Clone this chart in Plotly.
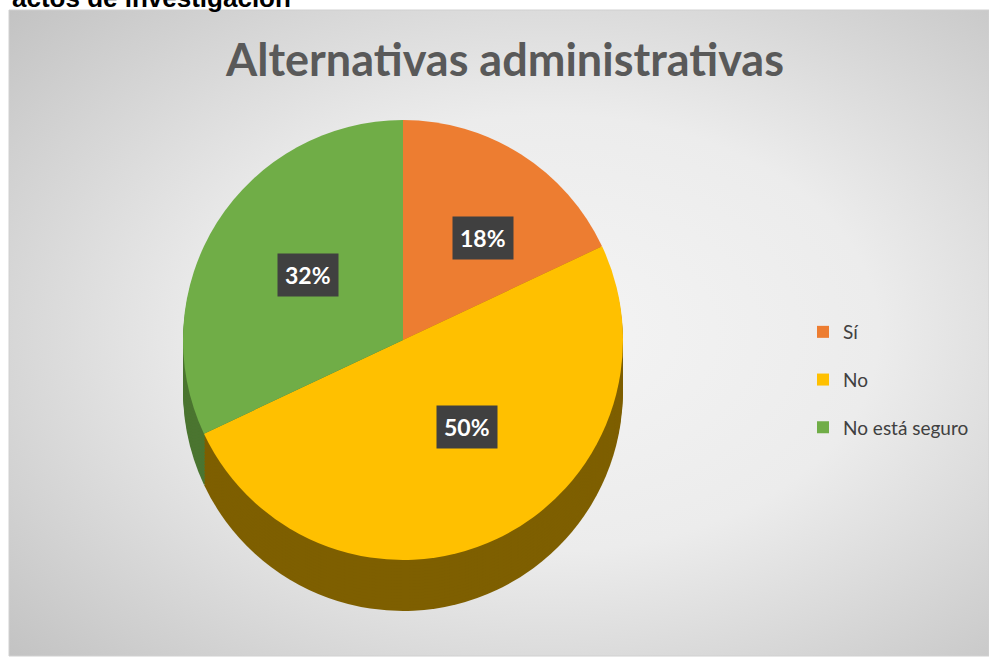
import base64, math
import plotly.graph_objects as go

labels = ["Sí", "No", "No está seguro"]
values = [18, 50, 32]
colors = ["#ED7D31", "#FFC000", "#70AD47"]
side_colors = ["#9E5420", "#7E5F00", "#4B7530"]
title_text = "Alternativas administrativas"
caption_text = "actos de investigación"

W, H = 989, 659
cx_px, cy_px, R_px = 403, 340, 220
depth_layers, layer_step = 17, 3

def dom(cy):
    return dict(x=[(cx_px - R_px) / W, (cx_px + R_px) / W],
                y=[1 - (cy + R_px) / H, 1 - (cy - R_px) / H])

fig = go.Figure()
for k in range(depth_layers, 0, -1):
    fig.add_trace(go.Pie(labels=labels, values=values, sort=False, direction="clockwise",
                         rotation=0, marker=dict(colors=side_colors), textinfo="none",
                         hoverinfo="skip", showlegend=False, domain=dom(cy_px + k * layer_step)))
fig.add_trace(go.Pie(labels=labels, values=values, sort=False, direction="clockwise",
                     rotation=0, marker=dict(colors=colors), textinfo="none",
                     hoverinfo="label+percent", showlegend=False, domain=dom(cy_px)))

# legend entries
for i, (lab, col) in enumerate(zip(labels, colors)):
    fig.add_trace(go.Scatter(x=[None], y=[None], mode="markers", name=lab,
                             marker=dict(symbol="square", size=13, color=col),
                             legendgroup="g%d" % i, showlegend=True))

svg = ('<svg xmlns="http://www.w3.org/2000/svg" width="980" height="646" viewBox="0 0 980 646" preserveAspectRatio="none">'
       '<defs><radialGradient id="g" cx="0.55" cy="0.5" r="0.75">'
       '<stop offset="0" stop-color="#f4f4f4"/><stop offset="0.45" stop-color="#ececec"/>'
       '<stop offset="1" stop-color="#c2c2c2"/></radialGradient></defs>'
       '<rect width="980" height="646" fill="url(#g)"/></svg>')
src = "data:image/svg+xml;base64," + base64.b64encode(svg.encode()).decode()

total = sum(values)
annotations = []
cum = 0
for lab, v in zip(labels, values):
    mid = (cum + v / 2) / total * 2 * math.pi
    cum += v
    xp = cx_px + 0.68 * R_px * math.sin(mid)
    yp = cy_px - 0.55 * R_px * math.cos(mid)
    annotations.append(dict(x=xp / W, y=1 - yp / H, xref="paper", yref="paper",
                            text="<b>%d%%</b>" % round(v / total * 100), showarrow=False,
                            font=dict(family="Lato, Open Sans, sans-serif", size=23, color="white"),
                            bgcolor="#404040", borderpad=7))
annotations.append(dict(x=10 / W, y=1 - 15 / H, xref="paper", yref="paper", xanchor="left",
                        yanchor="bottom", text="<b>" + caption_text + "</b>", showarrow=False,
                        font=dict(family="Liberation Sans, Arial, sans-serif", size=26, color="black")))

fig.update_layout(
    width=W, height=H, margin=dict(l=0, r=0, t=0, b=0),
    paper_bgcolor="white", plot_bgcolor="rgba(0,0,0,0)",
    xaxis=dict(visible=False), yaxis=dict(visible=False),
    images=[dict(source=src, xref="paper", yref="paper", x=9 / W, y=1 - 10 / H,
                 sizex=(W - 9) / W, sizey=(H - 13) / H, sizing="stretch", layer="below",
                 xanchor="left", yanchor="top")],
    shapes=[dict(type="rect", xref="paper", yref="paper", x0=9 / W, x1=1, y0=3 / H, y1=1 - 10 / H,
                 line=dict(color="#d0d0d0", width=1), layer="below")],
    title=dict(text="<b>" + title_text + "</b>", x=505 / W, xanchor="center", y=1 - 60 / H, yanchor="middle",
               font=dict(family="Lato, Open Sans, sans-serif", size=45, color="#595959")),
    legend=dict(x=803 / W, y=1 - 380 / H, xanchor="left", yanchor="middle",
                font=dict(family="Lato, Open Sans, sans-serif", size=19, color="#404040"),
                bgcolor="rgba(0,0,0,0)", itemwidth=30, tracegroupgap=20, itemsizing="constant"),
    annotations=annotations,
)
fig.write_html("out.html", config={"displayModeBar": False},
               post_script="document.body.style.margin='0';document.body.style.overflow='hidden';")
